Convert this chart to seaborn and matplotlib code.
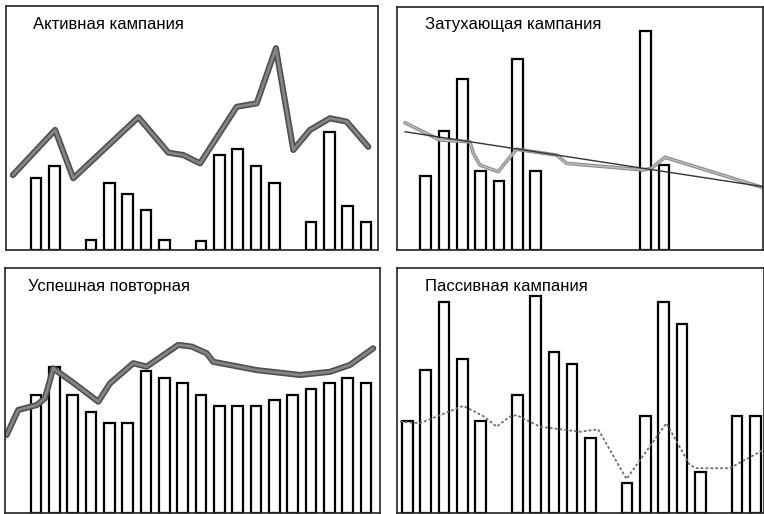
import numpy as np
import seaborn as sns
import matplotlib.pyplot as plt

sns.set_theme(style="white")
plt.rcParams['font.family'] = ['Liberation Sans', 'DejaVu Sans']

# 20 periods (weeks) per panel, bar = response, line = trend / smoothing
slots = np.arange(20)

# Активная кампания
active_bars = [0, 29.6, 34.6, 0, 4.1, 27.3, 22.8, 16.4, 4.1, 0,
               3.8, 38.9, 41.3, 34.6, 27.3, 0, 11.6, 48.5, 18.0, 11.6]
active_line_x = [-0.27, 2.04, 3.03, 6.58, 8.22, 9.04, 9.95, 11.95, 13.04,
                 14.09, 15.04, 15.95, 17.04, 17.95, 19.13]
active_line_y = [30.7, 49.2, 29.4, 54.4, 39.9, 38.9, 35.5, 58.7, 60.1,
                 82.7, 41.0, 49.2, 54.0, 52.6, 42.3]

# Затухающая кампания
fading_bars = [0, 30.5, 49.0, 70.3, 32.6, 28.4, 78.5, 32.6, 0, 0,
               0, 0, 0, 90.1, 34.9, 0, 0, 0, 0, 0]
fading_smooth_x = [-0.13, 1.78, 3.41, 3.6, 3.96, 4.96, 5.69, 5.96, 8.15,
                   8.69, 12.87, 13.33, 14.05, 19.33]
fading_smooth_y = [52.3, 45.2, 44.5, 39.7, 34.9, 32.2, 39.0, 41.4, 39.0,
                   35.6, 32.9, 33.6, 38.1, 25.8]
fading_trend_x = [-0.13, 19.42]
fading_trend_y = [48.6, 26.0]

# Успешная повторная
repeat_bars = [0, 48.2, 59.8, 48.2, 41.4, 36.6, 36.6, 58.0, 55.3, 53.0,
               48.2, 43.7, 43.7, 43.7, 46.2, 48.2, 50.6, 53.0, 55.3, 53.0]
repeat_line_x = [-0.6, 0.03, 1.04, 1.49, 1.94, 2.95, 4.4, 5.04, 6.31, 7.04,
                 8.76, 9.5, 10.31, 10.67, 13.04, 15.4, 17.04, 18.13, 19.4]
repeat_line_y = [31.9, 42.1, 44.1, 46.9, 59.1, 53.7, 45.5, 53.0, 61.2, 59.8,
                 68.7, 68.0, 65.3, 61.8, 58.4, 56.4, 57.7, 60.5, 67.3]

# Пассивная кампания
passive_bars = [37.6, 58.4, 86.3, 63.1, 37.6, 0, 48.2, 88.6, 65.8, 60.9,
                30.8, 0, 12.1, 39.8, 86.3, 77.2, 16.6, 0, 39.8, 39.8]
passive_line_x = [-0.4, 0.69, 3.06, 4.15, 4.88, 5.6, 5.97, 7.24, 9.42,
                  10.42, 11.97, 14.15, 15.42, 15.79, 17.6, 19.42]
passive_line_y = [37.3, 36.7, 43.8, 39.6, 35.3, 39.4, 40.0, 35.3, 33.2,
                  34.2, 13.9, 36.7, 19.6, 18.3, 18.3, 25.7]

titles = ["Активная кампания", "Затухающая кампания",
          "Успешная повторная", "Пассивная кампания"]

W, H = 764, 514
fig = plt.figure(figsize=(W / 100, H / 100), dpi=100)
fig.patch.set_facecolor('white')


def make_ax(x0, x1, ytop, ybot):
    return fig.add_axes([x0 / W, 1 - ybot / H, (x1 - x0) / W, (ybot - ytop) / H])


ax_tl = make_ax(6, 378, 6, 250)
ax_tr = make_ax(396.7, 763, 6.7, 250)
ax_bl = make_ax(5, 380, 268.3, 513)
ax_br = make_ax(396.7, 763.5, 268.3, 513)

panels = [
    (ax_tl, active_bars, (-0.64, 19.66), titles[0], 0.073),
    (ax_tr, fading_bars, (-0.58, 19.4), titles[1], 0.077),
    (ax_bl, repeat_bars, (-0.69, 19.77), titles[2], 0.061),
    (ax_br, passive_bars, (-0.58, 19.45), titles[3], 0.077),
]

for ax, bars, xlim, title, tx in panels:
    vals = np.array(bars)
    mask = vals > 0
    sns.barplot(x=slots[mask], y=vals[mask], native_scale=True, fill=False,
                color='black', linewidth=1.6, width=0.58, errorbar=None, ax=ax)
    ax.set_xlim(*xlim)
    ax.set_ylim(0, 100)
    ax.set_xticks([])
    ax.set_yticks([])
    ax.set_xlabel("")
    ax.set_ylabel("")
    for s in ax.spines.values():
        s.set_visible(True)
        s.set_color('#222222')
        s.set_linewidth(1.2)
    ax.text(tx, 0.925, title, transform=ax.transAxes, ha='left', va='center',
            fontsize=12, color='black')

# thick textured gray lines (dark rim, lighter core)
for ax, lx, ly in [(ax_tl, active_line_x, active_line_y),
                   (ax_bl, repeat_line_x, repeat_line_y)]:
    sns.lineplot(x=lx, y=ly, ax=ax, color='#4f4f4f', linewidth=4.4, sort=False)
    sns.lineplot(x=lx, y=ly, ax=ax, color='#858585', linewidth=2.0, sort=False)

sns.lineplot(x=fading_smooth_x, y=fading_smooth_y, ax=ax_tr, color='#8c8c8c',
             linewidth=2.6, sort=False)
sns.lineplot(x=fading_smooth_x, y=fading_smooth_y, ax=ax_tr, color='#bdbdbd',
             linewidth=1.0, sort=False)
sns.lineplot(x=fading_trend_x, y=fading_trend_y, ax=ax_tr, color='#333333',
             linewidth=1.0, sort=False)

sns.lineplot(x=passive_line_x, y=passive_line_y, ax=ax_br, color='#6e6e6e',
             linewidth=1.3, sort=False, linestyle=(0, (1.5, 1.2)))

fig.savefig("out.png", dpi=100, facecolor='white')
